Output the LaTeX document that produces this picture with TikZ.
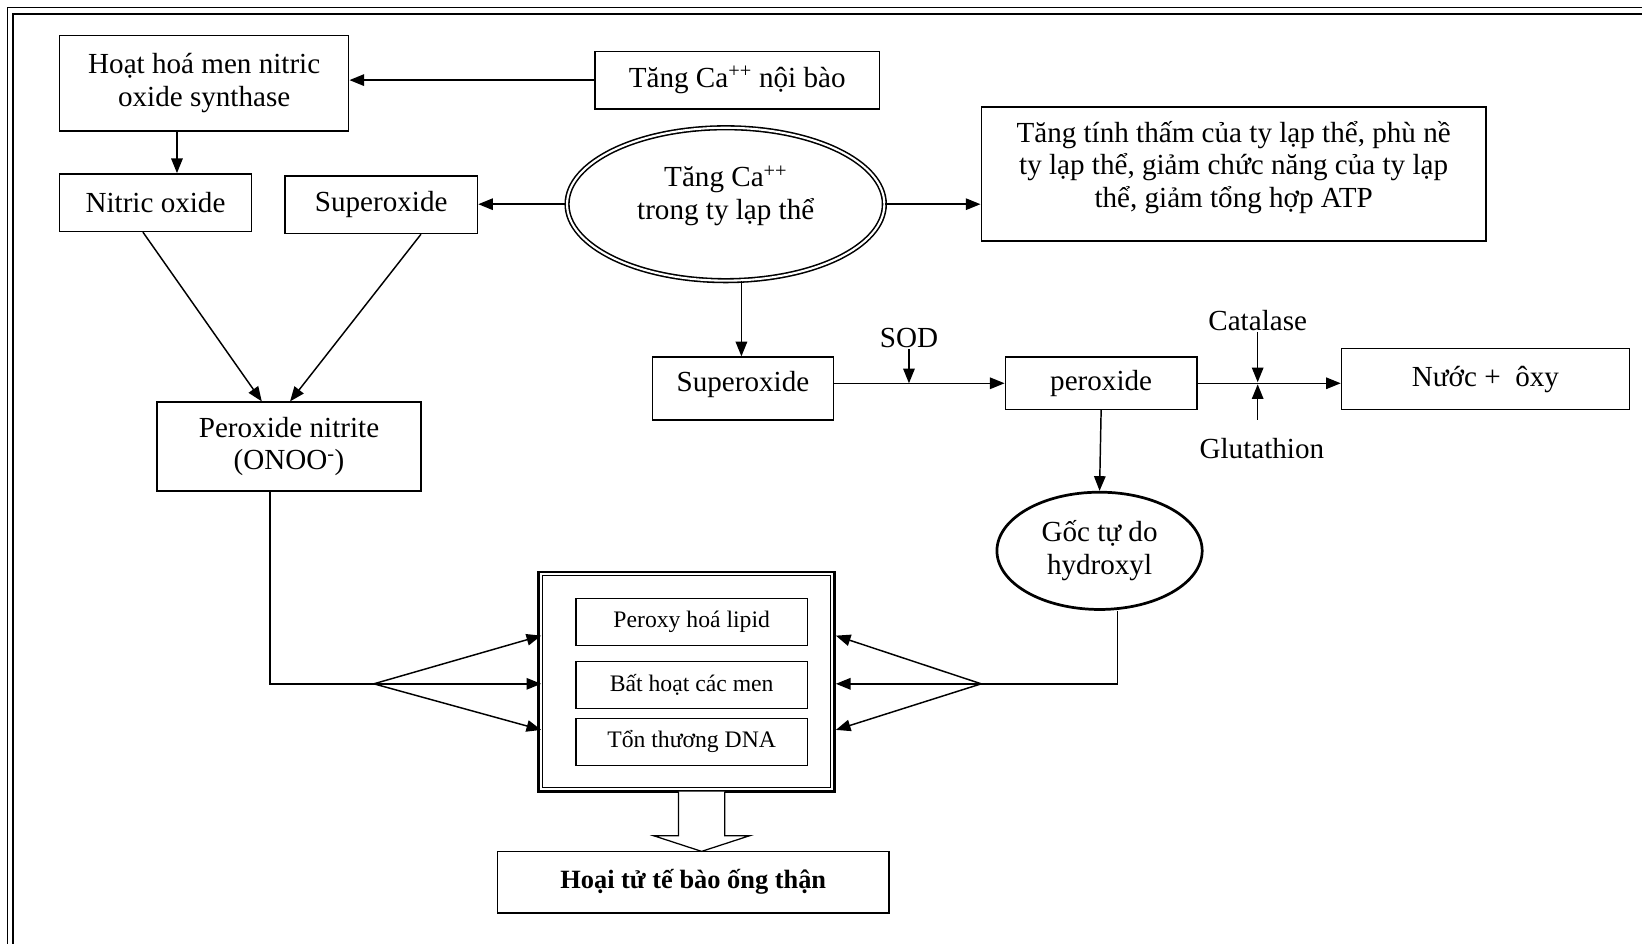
\documentclass[tikz,border=0pt]{standalone}
\usepackage{fontspec}
\setmainfont{Liberation Serif}
\usetikzlibrary{shapes.geometric, arrows.meta, positioning, calc}
\newcommand{\txtmain}{\fontsize{27.8}{31}\selectfont}
\newcommand{\txtsmall}{\fontsize{22.6}{26}\selectfont}
\newcommand{\txtbold}{\fontsize{25.2}{28}\selectfont\bfseries}

\begin{document}
\begin{tikzpicture}[
    % Global Styles
    x=1pt, y=-1pt,
    font=\txtmain,
    % Node Styles
    stepbox/.style={
        rectangle,
        draw,
        line width=1.4pt,
        align=center,
        inner sep=0pt
    },
    itembox/.style={
        stepbox,
        line width=1.2pt,
        font=\txtsmall,
        minimum width=221pt,
        minimum height=45pt
    },
    ovalbox/.style={
        ellipse,
        draw,
        align=center,
        inner sep=0pt
    },
    enzyme/.style={
        inner sep=1pt
    },
    link/.style={
        line width=1.4pt
    },
    arr/.style={
        link,
        -{Triangle[length=14pt,width=11pt]}
    }
]
    \clip (0,0) rectangle (1568,901);

    % --- Page frame (open at right and bottom) ---
    \draw[line width=1pt] (7.6,930) -- (7.6,7.6) -- (1600,7.6);
    \draw[line width=2.4pt] (12.6,930) -- (12.6,13.4) -- (1600,13.4);

    % --- Top left: nitric oxide branch ---
    \node[stepbox, minimum width=276pt, minimum height=91pt] (synthase) at (195,79.5) {Hoạt hoá men nitric\\oxide synthase};
    \node[stepbox, minimum width=272pt, minimum height=55pt] (caCell) at (704,76.5) {Tăng Ca\textsuperscript{++}\ nội bào};
    \node[stepbox, minimum width=183pt, minimum height=55pt] (nitric) at (148.5,193.5) {Nitric oxide};
    \node[stepbox, minimum width=184pt, minimum height=55pt] (superA) at (364,195.5) {Superoxide};

    % --- Mitochondrial calcium ---
    \node[ovalbox, double, line width=1.5pt, double distance=2pt, minimum width=303pt, minimum height=146pt, text depth=22pt] (caMito) at (693,195) {Tăng Ca\textsuperscript{++}\\trong ty lạp thể};
    \node[stepbox, minimum width=482pt, minimum height=128pt, text depth=18pt] (mitoHarm) at (1178,166) {Tăng tính thấm của ty lạp thể, phù nề\\ty lạp thể, giảm chức năng của ty lạp\\thể, giảm tổng hợp ATP};

    % --- Superoxide to water chain ---
    \node[stepbox, minimum width=173pt, minimum height=60pt, text depth=14pt] (superB) at (709.5,371) {Superoxide};
    \node[stepbox, minimum width=183pt, minimum height=50pt] (peroxide) at (1051.5,366) {peroxide};
    \node[stepbox, minimum width=275pt, minimum height=58pt] (water) at (1418.5,362) {Nước +\ \ ôxy};
    \node[enzyme] (sod) at (868,323) {SOD};
    \node[enzyme] (catalase) at (1201,306) {Catalase};
    \node[enzyme] (glut) at (1205,428) {Glutathion};

    % --- Peroxynitrite and hydroxyl radical ---
    \node[stepbox, minimum width=252pt, minimum height=85pt] (nitrite) at (276,426.5) {Peroxide nitrite\\(ONOO\textsuperscript{-})};
    \node[ovalbox, line width=2.6pt, minimum width=196pt, minimum height=112pt] (hydroxyl) at (1050,526) {Gốc tự do\\hydroxyl};

    % --- Damage box ---
    \node[stepbox, line width=2.4pt, minimum width=283pt, minimum height=210pt] (damage) at (655.5,651) {};
    \draw[line width=1pt] ([shift={(5pt,-5pt)}]damage.north west) rectangle ([shift={(-5pt,5pt)}]damage.south east);
    \node[itembox] (lipid) at (660.5,594) {Peroxy hoá lipid};
    \node[itembox] (enzymes) at (660.5,654) {Bất hoạt các men};
    \node[itembox] (dna) at (660.5,708.5) {Tổn thương DNA};

    \node[stepbox, font=\txtbold, minimum width=374pt, minimum height=59pt] (necrosis) at (662,842.5) {Hoại tử tế bào ống thận};

    % --- Connectors ---
    \draw[arr] (caCell.west) -- (caCell.west -| synthase.east);
    \draw[arr] ([xshift=-26pt]synthase.south) -- ([xshift=-26pt]synthase.south |- nitric.north);
    \draw[arr] (caMito.west) -- (superA.east |- caMito.west);
    \draw[arr] (caMito.east) -- (caMito.east -| mitoHarm.west);
    \draw[arr] ([xshift=15pt]caMito.south) -- ([xshift=15pt]caMito.south |- superB.north);
    \draw[arr] ([xshift=-12pt]nitric.south) -- ([xshift=-26pt]nitrite.north);
    \draw[arr] ([xshift=38pt]superA.south) -- ([xshift=1pt]nitrite.north);

    \coordinate (sodHit) at (sod.south |- peroxide.west);
    \coordinate (catHit) at (catalase.south |- peroxide.east);
    \coordinate (glutTop) at ([yshift=16pt]glut.north -| catalase.south);
    \draw[arr] (superB.east |- peroxide.west) -- (peroxide.west);
    \draw[arr] (sod.south) -- (sodHit);
    \draw[arr] (peroxide.east) -- (peroxide.east -| water.west);
    \draw[arr] (catalase.south) -- ([yshift=1pt]catHit);
    \draw[arr] (glutTop) -- ([yshift=-1pt]catHit);
    \draw[arr] (peroxide.south) -- (hydroxyl.north);

    % fan into the damage box from both sides
    \coordinate (fanL) at (357,653);
    \coordinate (fanR) at (937,653);
    \draw[link] ([xshift=-18pt]nitrite.south) |- (fanL);
    \draw[link] ([xshift=17pt]hydroxyl.south) |- (fanR);
    \foreach \dy in {44,-2,-46} {
        \draw[arr] (fanL) -- ([xshift=4pt,yshift=\dy pt]damage.west);
        \draw[arr] (fanR) -- ([yshift=\dy pt]damage.east);
    }

    % block arrow down to necrosis
    \coordinate (blockTop) at (670,756);
    \draw[line width=1.2pt, fill=white] (blockTop) ++(-22,0) -- ++(0,42) -- ++(-24,0) -- ++(46,15) -- ++(46,-15) -- ++(-24,0) -- ++(0,-42);

\end{tikzpicture}
\end{document}
